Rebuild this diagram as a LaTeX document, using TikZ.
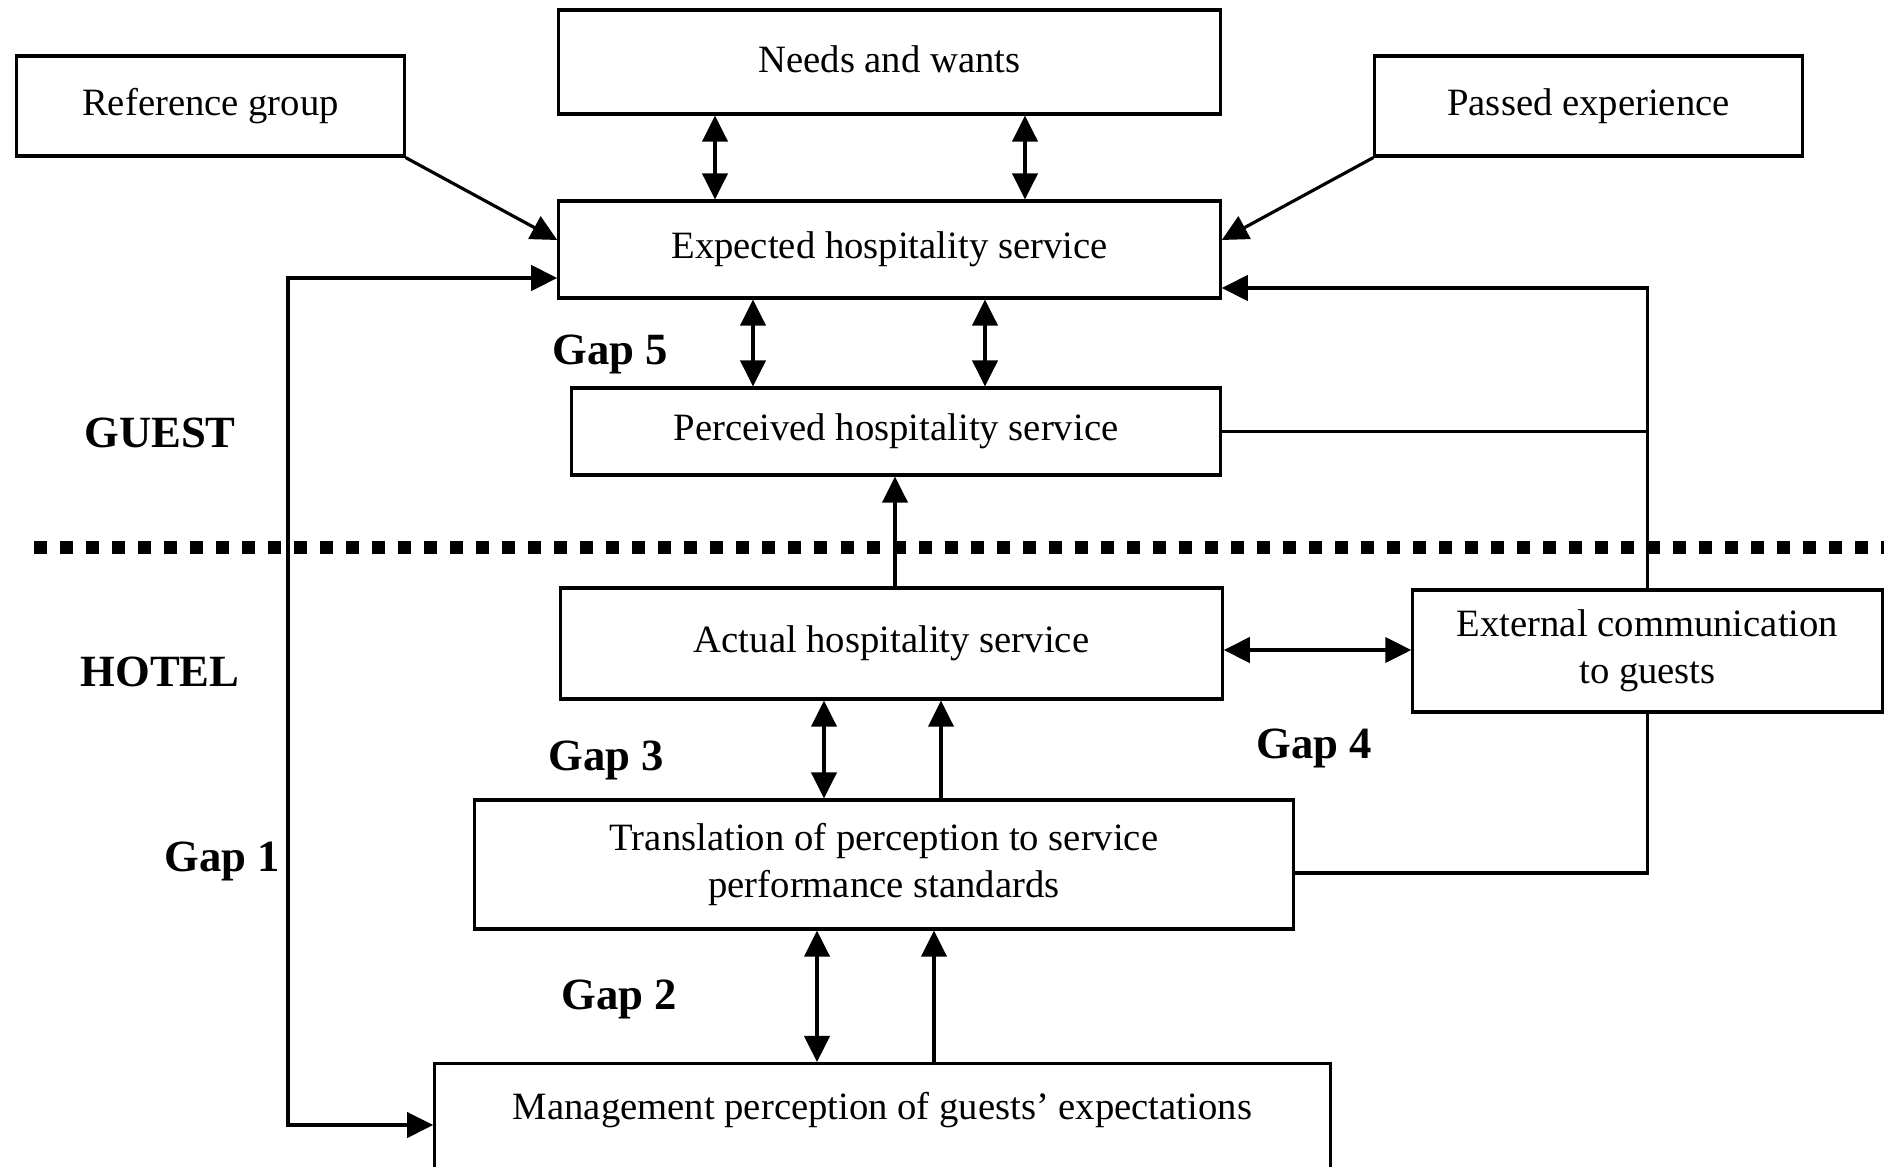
\documentclass[tikz,border=0pt]{standalone}
\usepackage{fontspec}
\setmainfont{Liberation Serif}
\usepackage{tikz}
\usetikzlibrary{arrows.meta}

\begin{document}
\begin{tikzpicture}[
				x=0.01cm, y=-0.01cm,
				box style/.style={
					draw,
					line width=0.9pt,
					align=center,
					inner sep=0pt,
					font=\fontsize{11}{13.5}\selectfont,
					fill=none
				},
				gap style/.style={
					font=\fontsize{12.7}{14}\selectfont\bfseries
				},
				link/.style={line width=0.9pt},
				>={Triangle[length=7.4pt,width=7.2pt]}
				]
				
				\useasboundingbox (0,0) rectangle (1884,1166);
				
				% guest side
				\node[box style, minimum width=6.61cm, minimum height=1.04cm, text height=12pt, text depth=6pt] (needs) at (889.5,62)
				{Needs and wants};
				\node[box style, minimum width=3.87cm, minimum height=1.00cm] (refgroup) at (210.5,106)
				{Reference group};
				\node[box style, minimum width=4.27cm, minimum height=1.00cm] (passed) at (1588.5,106)
				{Passed experience};
				\node[box style, minimum width=6.61cm, minimum height=0.97cm] (expected) at (889.5,249.5)
				{Expected hospitality service};
				\node[box style, minimum width=6.48cm, minimum height=0.87cm] (perceived) at (896,431.5)
				{Perceived hospitality service};
				
				% hotel side
				\node[box style, minimum width=6.61cm, minimum height=1.11cm] (actual) at (891.5,643.5)
				{Actual hospitality service};
				\node[box style, minimum width=4.69cm, minimum height=1.22cm] (external) at (1647.5,651)
				{External communication\\to guests};
				\node[box style, minimum width=8.18cm, minimum height=1.29cm] (transl) at (884,864.5)
				{Translation of perception to service\\performance standards};
				\node[box style, minimum width=8.95cm, anchor=north, text height=16pt, text depth=2.5cm] (mgmt) at (882.5,1062)
				{Management perception of guests' expectations};
				
				% labels
				\node[gap style] (guest) at (160,433) {GUEST};
				\node[gap style] (hotel) at (160,672) {HOTEL};
				\node[gap style] (gap5) at (610,354) {Gap 5};
				\node[gap style] (gap3) at (606,760) {Gap 3};
				\node[gap style] (gap4) at (1314,748) {Gap 4};
				\node[gap style] (gap1) at (222,861) {Gap 1};
				\node[gap style] (gap2) at (619,999) {Gap 2};
				
				% divider
				\draw[line width=0.13cm, dash pattern=on 0.13cm off 0.13cm] (34,547) -- (1884,547);
				
				% connectors
				\draw[link, <->] (needs.south -| 715,0) -- (expected.north -| 715,0);
				\draw[link, <->] (needs.south -| 1025,0) -- (expected.north -| 1025,0);
				\draw[link, ->] (refgroup.south east) -- (expected.west |- 0,240);
				\draw[link, ->] (passed.south west) -- (expected.east |- 0,240);
				\draw[link, <->] (expected.south -| 753,0) -- (perceived.north -| 753,0);
				\draw[link, <->] (expected.south -| 985,0) -- (perceived.north -| 985,0);
				
				\draw[link, <->] (expected.west |- 0,278) -| (288,1125) -- (mgmt.west |- 0,1125);
				
				\draw[link] (transl.east |- 0,873) -| (external.south);
				\draw[link, ->] (external.north) |- (expected.east |- 0,288);
				\draw[link] (perceived.east) -- (perceived.east -| external.north);
				
				\draw[link, ->] (actual.north -| 895,0) -- (perceived.south -| 895,0);
				\draw[link, <->] (actual.east |- 0,650) -- (external.west |- 0,650);
				
				\draw[link, <->] (actual.south -| 824,0) -- (transl.north -| 824,0);
				\draw[link, ->] (transl.north -| 941,0) -- (actual.south -| 941,0);
				\draw[link, <->] (transl.south -| 817,0) -- (mgmt.north -| 817,0);
				\draw[link, ->] (mgmt.north -| 934,0) -- (transl.south -| 934,0);
				
			\end{tikzpicture}
\end{document}
